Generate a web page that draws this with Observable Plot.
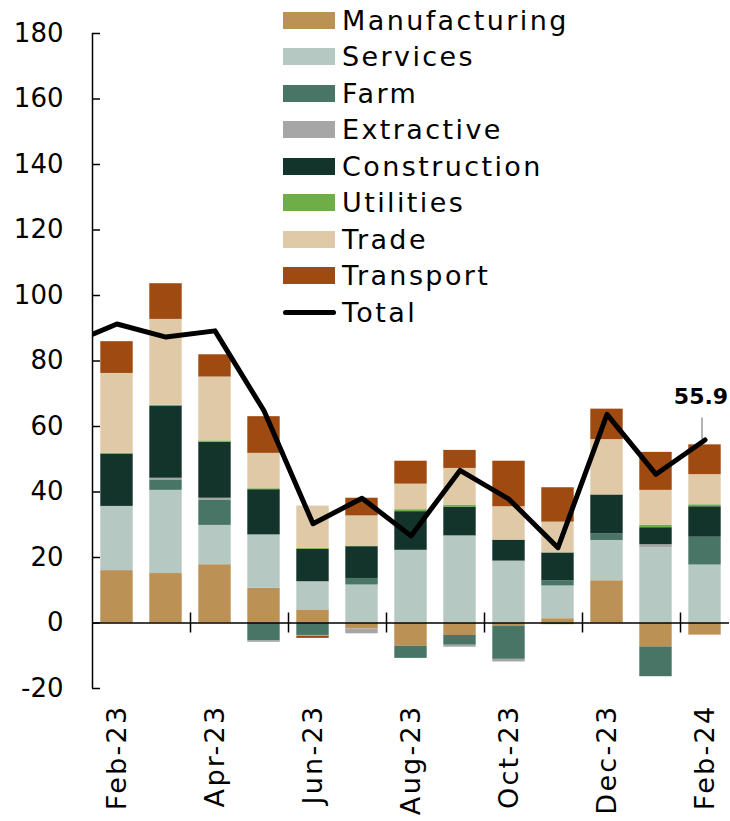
<!DOCTYPE html>
<html><head><meta charset="utf-8">
<script src="https://cdn.jsdelivr.net/npm/d3@7"></script>
<script src="https://cdn.jsdelivr.net/npm/@observablehq/plot@0.6"></script>
<style>
body{margin:0;background:#fff;}
#wrap{position:relative;width:730px;height:821px;font-family:"DejaVu Sans",sans-serif;}
#legend{position:absolute;left:283px;top:2px;}
.row{display:flex;align-items:center;height:36.5px;}
.sw{width:52px;height:17px;margin-right:7px;flex:none;}
.ln{width:53px;height:5px;border-radius:3px;background:#000;margin-right:6px;flex:none;}
.lab{font-size:27px;letter-spacing:2.4px;color:#000;line-height:1;}
g[aria-label="x-axis tick label"] text{letter-spacing:2.3px;}
</style></head><body><div id="wrap"><div id="legend"></div></div>
<script>
const months = ["Feb-23","Mar-23","Apr-23","May-23","Jun-23","Jul-23","Aug-23","Sep-23","Oct-23","Nov-23","Dec-23","Jan-24","Feb-24"];
const sectors = ["Manufacturing","Services","Farm","Extractive","Construction","Utilities","Trade","Transport"];
const colors = ["#bb9155","#b5c8c1","#487565","#a6a6a6","#12342a","#6fae47","#e0c9a7","#9e4a10"];

const manufacturing = [16.0, 15.1, 17.8, 10.6, 4.0, -1.8, -7.1, -3.8, -0.9, 1.3, 12.9, -7.3, -3.7];
const services      = [19.6, 25.4, 12.0, 16.3, 8.6, 11.6, 22.2, 26.6, 18.9, 10.0, 12.3, 22.9, 17.7];
const farm          = [0.0, 3.2, 7.6, -5.5, -3.8, 2.0, -3.7, -3.0, -10.2, 1.6, 2.0, -9.1, 8.5];
const extractive    = [0.0, 0.5, 0.7, -0.4, -0.3, -1.5, 0.0, -0.6, -0.8, 0.0, 0.0, 1.0, 0.0];
const construction  = [16.0, 21.9, 17.1, 13.8, 9.9, 9.7, 11.8, 8.8, 6.4, 8.5, 11.9, 5.2, 9.3];
const utilities     = [0.2, 0.4, 0.4, 0.3, 0.3, 0.2, 0.6, 0.6, 0.0, -0.5, 0.0, 0.8, 0.6];
const trade         = [24.4, 26.2, 19.5, 10.8, 12.9, 9.2, 7.8, 11.2, 10.2, 9.4, 16.9, 10.6, 9.2];
const transport     = [9.7, 10.9, 6.8, 11.2, -0.6, 5.4, 7.0, 5.5, 13.9, 10.5, 9.3, 11.6, 9.1];
const total         = [91.3, 87.3, 89.2, 64.8, 30.3, 38.1, 26.6, 46.6, 37.8, 23.0, 63.7, 45.4, 55.9];
const totalPrev = 85.0; // Jan-23, only its segment into the plot is visible
const yTicks = [-20, 0, 20, 40, 60, 80, 100, 120, 140, 160, 180];
const labelEvery = 2;

const series = [manufacturing, services, farm, extractive, construction, utilities, trade, transport];
const rows = [];
sectors.forEach((s, k) => series[k].forEach((v, i) => rows.push({i, month: months[i], sector: s, value: v})));

const linePts = [{x: -0.5, v: totalPrev}].concat(total.map((v, i) => ({x: i + 0.5, v})));
const last = linePts[linePts.length - 1];
const labelPos = months.map((m, i) => i).filter(i => i % labelEvery === 0).map(i => i + 0.5);
const tickPos = months.map((m, i) => i).filter(i => i % labelEvery === 0 && i > 0);

const chart = Plot.plot({
  width: 730, height: 821,
  marginLeft: 92, marginRight: 1, marginTop: 33, marginBottom: 133,
  x: {type: "linear", domain: [0, months.length], axis: null},
  y: {domain: [-20, 180], axis: null},
  color: {domain: sectors, range: colors},
  style: {fontFamily: "DejaVu Sans", fontSize: "26px", color: "#000", background: "transparent", overflow: "visible"},
  marks: [
    Plot.rectY(rows, Plot.stackY({x1: "i", x2: d => d.i + 1, y: "value", fill: "sector", insetLeft: 8.3, insetRight: 8.3})),
    Plot.ruleY([0], {stroke: "#000", strokeWidth: 1.5}),
    Plot.ruleX([0], {y1: -20, y2: 180, stroke: "#000", strokeWidth: 1.5}),
    Plot.ruleY(yTicks, {x1: 0, x2: 0, insetRight: -8, stroke: "#000", strokeWidth: 1.5}),
    Plot.ruleX(tickPos, {y1: 0, y2: 0, insetTop: -10, insetBottom: -10, stroke: "#000", strokeWidth: 1.5}),
    Plot.axisY(yTicks, {anchor: "left", tickSize: 0, tickPadding: 29, tickFormat: d => String(d), fontSize: 26}),
    Plot.axisX(labelPos, {anchor: "bottom", tickSize: 0, tickPadding: 16, tickRotate: -90, tickFormat: d => months[d - 0.5], fontSize: 27}),
    Plot.ruleX([last], {x: "x", y1: "v", y2: "v", insetTop: -22, dx: -3, stroke: "#9a9a9a", strokeWidth: 1.5}),
    Plot.line(linePts, {x: "x", y: "v", stroke: "#000", strokeWidth: 5, strokeLinejoin: "round", clip: true}),
    Plot.text([last], {x: "x", y: "v", text: d => d.v.toFixed(1), dy: -43, dx: -4, fontWeight: "bold", fontSize: 22})
  ]
});
document.getElementById("wrap").appendChild(chart);
chart.style.position = "absolute";
chart.style.left = "0";
chart.style.top = "0";

const legend = document.getElementById("legend");
sectors.forEach((s, k) => {
  const r = document.createElement("div"); r.className = "row";
  r.innerHTML = `<div class="sw" style="background:${colors[k]}"></div><span class="lab">${s}</span>`;
  legend.appendChild(r);
});
const r = document.createElement("div"); r.className = "row";
r.innerHTML = `<div class="ln"></div><span class="lab">Total</span>`;
legend.appendChild(r);
</script>
</body></html>
